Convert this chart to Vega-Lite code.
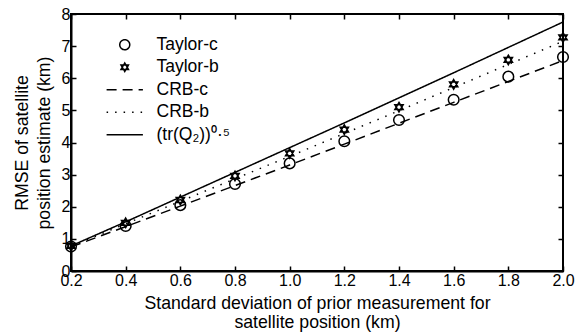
{
  "$schema": "https://vega.github.io/schema/vega-lite/v6.json",
  "width": 492,
  "height": 257,
  "autosize": "none",
  "padding": {"left": 71, "top": 14, "right": 13, "bottom": 64},
  "background": "white",
  "config": {
    "view": {"stroke": "black", "strokeWidth": 2},
    "font": "Liberation Sans",
    "axis": {
      "labelFont": "Liberation Sans", "labelFontSize": 16, "labelColor": "black",
      "titleFont": "Liberation Sans", "titleFontSize": 17.7, "titleFontWeight": "normal", "titleColor": "black",
      "domainColor": "black", "domainWidth": 2, "tickColor": "black", "tickWidth": 1.5, "tickSize": -5,
      "grid": false, "labelPadding": 6, "labelFlush": false
    },
    "legend": {
      "labelFont": "Liberation Sans", "labelFontSize": 17.5, "labelColor": "black", "labelLimit": 300
    }
  },
  "datasets": {
    "pts": [
      {"x": 0.2, "y": 0.76, "series": "Taylor-c"},
      {"x": 0.4, "y": 1.40, "series": "Taylor-c"},
      {"x": 0.6, "y": 2.05, "series": "Taylor-c"},
      {"x": 0.8, "y": 2.71, "series": "Taylor-c"},
      {"x": 1.0, "y": 3.35, "series": "Taylor-c"},
      {"x": 1.2, "y": 4.04, "series": "Taylor-c"},
      {"x": 1.4, "y": 4.70, "series": "Taylor-c"},
      {"x": 1.6, "y": 5.33, "series": "Taylor-c"},
      {"x": 1.8, "y": 6.05, "series": "Taylor-c"},
      {"x": 2.0, "y": 6.66, "series": "Taylor-c"},
      {"x": 0.2, "y": 0.78, "series": "Taylor-b"},
      {"x": 0.4, "y": 1.50, "series": "Taylor-b"},
      {"x": 0.6, "y": 2.21, "series": "Taylor-b"},
      {"x": 0.8, "y": 2.96, "series": "Taylor-b"},
      {"x": 1.0, "y": 3.66, "series": "Taylor-b"},
      {"x": 1.2, "y": 4.40, "series": "Taylor-b"},
      {"x": 1.4, "y": 5.10, "series": "Taylor-b"},
      {"x": 1.6, "y": 5.81, "series": "Taylor-b"},
      {"x": 1.8, "y": 6.57, "series": "Taylor-b"},
      {"x": 2.0, "y": 7.27, "series": "Taylor-b"}
    ],
    "lines": [
      {"x": 0.2, "y": 0.75, "series": "CRB-c"},
      {"x": 0.4, "y": 1.38, "series": "CRB-c"},
      {"x": 0.6, "y": 2.02, "series": "CRB-c"},
      {"x": 0.8, "y": 2.66, "series": "CRB-c"},
      {"x": 1.0, "y": 3.30, "series": "CRB-c"},
      {"x": 1.2, "y": 3.95, "series": "CRB-c"},
      {"x": 1.4, "y": 4.60, "series": "CRB-c"},
      {"x": 1.6, "y": 5.25, "series": "CRB-c"},
      {"x": 1.8, "y": 5.90, "series": "CRB-c"},
      {"x": 2.0, "y": 6.55, "series": "CRB-c"},
      {"x": 0.2, "y": 0.77, "series": "CRB-b"},
      {"x": 0.4, "y": 1.47, "series": "CRB-b"},
      {"x": 0.6, "y": 2.17, "series": "CRB-b"},
      {"x": 0.8, "y": 2.87, "series": "CRB-b"},
      {"x": 1.0, "y": 3.57, "series": "CRB-b"},
      {"x": 1.2, "y": 4.28, "series": "CRB-b"},
      {"x": 1.4, "y": 4.99, "series": "CRB-b"},
      {"x": 1.6, "y": 5.71, "series": "CRB-b"},
      {"x": 1.8, "y": 6.43, "series": "CRB-b"},
      {"x": 2.0, "y": 7.15, "series": "CRB-b"},
      {"x": 0.2, "y": 0.78, "series": "(tr(Q₂))⁰·⁵"},
      {"x": 0.4, "y": 1.53, "series": "(tr(Q₂))⁰·⁵"},
      {"x": 0.6, "y": 2.30, "series": "(tr(Q₂))⁰·⁵"},
      {"x": 0.8, "y": 3.07, "series": "(tr(Q₂))⁰·⁵"},
      {"x": 1.0, "y": 3.84, "series": "(tr(Q₂))⁰·⁵"},
      {"x": 1.2, "y": 4.61, "series": "(tr(Q₂))⁰·⁵"},
      {"x": 1.4, "y": 5.39, "series": "(tr(Q₂))⁰·⁵"},
      {"x": 1.6, "y": 6.17, "series": "(tr(Q₂))⁰·⁵"},
      {"x": 1.8, "y": 6.96, "series": "(tr(Q₂))⁰·⁵"},
      {"x": 2.0, "y": 7.75, "series": "(tr(Q₂))⁰·⁵"}
    ]
  },
  "layer": [
    {
      "data": {"name": "lines"},
      "mark": {"type": "line", "color": "black", "strokeWidth": 1.5},
      "encoding": {
        "x": {
          "field": "x", "type": "quantitative",
          "scale": {"domain": [0.2, 2.0], "nice": false, "zero": false},
          "axis": {
            "orient": "bottom", "values": [0.2, 0.4, 0.6, 0.8, 1.0, 1.2, 1.4, 1.6, 1.8, 2.0], "format": ".1f",
            "title": ["Standard deviation of prior measurement for", "satellite position (km)"],
            "titlePadding": 6, "titleLineHeight": 19
          }
        },
        "y": {
          "field": "y", "type": "quantitative",
          "scale": {"domain": [0, 8], "nice": false, "zero": false},
          "axis": {
            "orient": "left", "values": [0, 1, 2, 3, 4, 5, 6, 7, 8], "format": "d",
            "title": ["RMSE of satellite", "position estimate (km)"],
            "titlePadding": 8, "titleLineHeight": 22
          }
        },
        "strokeDash": {
          "field": "series", "type": "nominal",
          "scale": {
            "domain": ["Taylor-c", "Taylor-b", "CRB-c", "CRB-b", "(tr(Q₂))⁰·⁵"],
            "range": [[1, 0], [1, 0], [10, 6], [1.5, 7], [1, 0]]
          },
          "legend": {
            "title": null, "orient": "none", "legendX": 45, "legendY": 22, "padding": 0,
            "symbolSize": 121, "labelOffset": 23, "rowPadding": 3.5,
            "symbolStrokeColor": "black", "symbolStrokeWidth": 1.5, "symbolFillColor": "transparent",
            "encode": {"symbols": {"update": {"size": {"signal": "datum.value === 'Taylor-c' ? 100 : datum.value === 'Taylor-b' ? 90 : 121"}}}}
          }
        }
      }
    },
    {
      "data": {"name": "pts"},
      "mark": {"type": "point", "filled": false, "color": "black", "strokeWidth": 1.5, "size": 113, "opacity": 1},
      "encoding": {
        "x": {
          "field": "x", "type": "quantitative",
          "axis": {"orient": "top", "labels": false, "title": null, "domain": false, "values": [0.2, 0.4, 0.6, 0.8, 1.0, 1.2, 1.4, 1.6, 1.8, 2.0]}
        },
        "y": {
          "field": "y", "type": "quantitative",
          "axis": {"orient": "right", "labels": false, "title": null, "domain": false, "values": [0, 1, 2, 3, 4, 5, 6, 7, 8]}
        },
        "shape": {
          "field": "series", "type": "nominal",
          "scale": {
            "domain": ["Taylor-c", "Taylor-b", "CRB-c", "CRB-b", "(tr(Q₂))⁰·⁵"],
            "range": ["circle", "M0,-0.9L0.78,0.45L-0.78,0.45ZM0,0.9L0.78,-0.45L-0.78,-0.45Z", "M-3.3,0L3.3,0", "M-3.3,0L3.3,0", "M-3.3,0L3.3,0"]
          },
          "legend": {
            "title": null, "orient": "none", "legendX": 45, "legendY": 22, "padding": 0,
            "symbolSize": 121, "labelOffset": 23, "rowPadding": 3.5,
            "symbolStrokeColor": "black", "symbolStrokeWidth": 1.5, "symbolFillColor": "transparent",
            "encode": {"symbols": {"update": {"size": {"signal": "datum.value === 'Taylor-c' ? 100 : datum.value === 'Taylor-b' ? 90 : 121"}}}}
          }
        }
      }
    }
  ],
  "resolve": {"axis": {"x": "independent", "y": "independent"}}
}
